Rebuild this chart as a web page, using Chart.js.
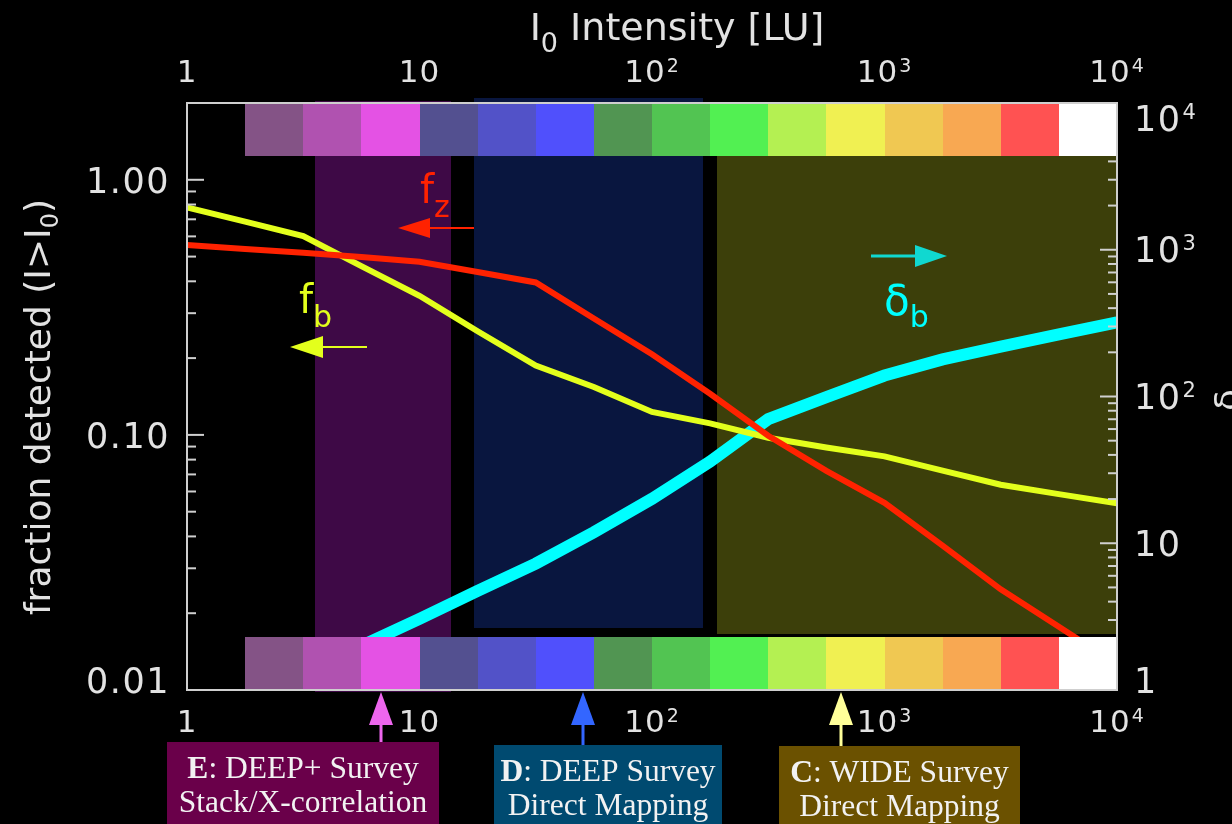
<!DOCTYPE html>
<html>
<head>
<meta charset="utf-8">
<title>Detected fraction and overdensity versus I0 intensity</title>
<script src="https://cdn.jsdelivr.net/npm/chart.js@4.4.1/dist/chart.umd.min.js"></script>
<style>
  html, body { margin: 0; padding: 0; background: #000; }
  canvas { display: block; }
</style>
</head>
<body>
<canvas id="chart" width="1232" height="824"></canvas>
<script>
// Intensity samples (LU), quarter-decade steps
const intensity = [1, 1.778, 3.162, 5.623, 10, 17.78, 31.62, 56.23, 100, 177.8, 316.2, 562.3, 1000, 1778, 3162, 5623, 10000];
// f_b : fraction of bright sources detected above I0
const fracB = [0.78, 0.686, 0.602, 0.459, 0.351, 0.255, 0.187, 0.154, 0.123, 0.111, 0.0975, 0.0893, 0.0824, 0.0724, 0.0638, 0.0586, 0.0539];
// f_z : fraction detected in redshift
const fracZ = [0.555, 0.535, 0.518, 0.498, 0.477, 0.435, 0.396, 0.286, 0.207, 0.145, 0.0992, 0.0723, 0.0542, 0.0368, 0.0248, 0.0177, 0.0126];
// delta_b : overdensity (right axis)
const deltaB = [0.48, 0.79, 1.26, 2.0, 3.05, 4.74, 7.27, 11.9, 20.1, 36.0, 70.2, 99.0, 139, 179, 219, 265, 320];

// Axis ticks and labels
const xTickValues = [1, 10, 100, 1000, 10000];
const xTickLabels = ['1', '10', '10^2', '10^3', '10^4'];
const fracTickValues = [0.01, 0.1, 1];
const fracTickLabels = ['0.01', '0.10', '1.00'];
const deltaTickValues = [1, 10, 100, 1000, 10000];
const deltaTickLabels = ['1', '10', '10^2', '10^3', '10^4'];

// Colour key cells along the intensity axis
const keyEdges = [1, 1.778, 3.162, 5.623, 10, 17.78, 31.62, 56.23, 100, 177.8, 316.2, 562.3, 1000, 1778, 3162, 5623, 10000];
const keyColors = [null, '#845386', '#b052b0', '#e452e4', '#535090', '#5252c8', '#5050fc', '#519552',
                   '#52c452', '#52f052', '#b4f052', '#f0f052', '#f0c852', '#f8a852', '#ff5252', '#ffffff'];

// Survey regimes
const surveyNames = ['E', 'D', 'C'];
const surveyTitles = [': DEEP+ Survey', ': DEEP Survey', ': WIDE Survey'];
const surveyModes = ['Stack/X-correlation', 'Direct Mapping', 'Direct Mapping'];
const surveyFrom = [3.55, 17.2, 190];
const surveyTo = [13.6, 166, 10000];
const surveyMarks = [6.8, 50.5, 650];

// ---- styling ----
const SANS = '"DejaVu Sans", sans-serif';
const SERIF = '"Liberation Serif", "DejaVu Serif", serif';
const TEXT = '#e2e2e2';
const bandStyle = [
  { fill: '#3e0946', top: 2.03, bottom: 0.0098 },
  { fill: '#09163f', top: 2.085, bottom: 0.0175 },
  { fill: '#3c3f0a', top: 1.24, bottom: 0.0166 }
];
const boxStyle = [
  { fill: '#6a004a', left: 167, right: 439, top: 742, arrow: '#ee66ee' },
  { fill: '#004a70', left: 494, right: 722, top: 745, arrow: '#3366ff' },
  { fill: '#6b5100', left: 779, right: 1020, top: 746, arrow: '#ffff99' }
];
const keyTopEdge = 1.24;      // lower edge of the upper key strip (fraction units)
const keyBottomEdge = 0.0162; // upper edge of the lower key strip (fraction units)

function drawPower(ctx, label, x, yMid, align, size, spacing) {
  const parts = label.split('^');
  const base = parts[0], exp = parts[1];
  const es = Math.round(size * 0.6);
  ctx.letterSpacing = (spacing || 0) + 'px';
  ctx.font = size + 'px ' + SANS;
  const wb = ctx.measureText(base).width;
  let we = 0;
  if (exp) { ctx.font = es + 'px ' + SANS; we = ctx.measureText(exp).width + 1; }
  const total = wb + we;
  const x0 = align === 'center' ? x - total / 2 : align === 'right' ? x - total : x;
  const baseline = yMid + size * 0.364;
  ctx.textAlign = 'left';
  ctx.textBaseline = 'alphabetic';
  ctx.font = size + 'px ' + SANS;
  ctx.fillText(base, x0, baseline);
  if (exp) {
    ctx.font = es + 'px ' + SANS;
    const sb = baseline - size * 0.729 + es * 0.729 - 2;
    ctx.fillText(exp, x0 + wb + 1, sb);
  }
  ctx.letterSpacing = '0px';
}

// runs: [text, size, dy, font, bold]
function drawRuns(ctx, runs, x, baseline, align) {
  let total = 0;
  const widths = runs.map(r => {
    ctx.font = (r[4] ? 'bold ' : '') + r[1] + 'px ' + (r[3] || SANS);
    const w = ctx.measureText(r[0]).width;
    total += w;
    return w;
  });
  let cx = align === 'center' ? x - total / 2 : align === 'right' ? x - total : x;
  ctx.textAlign = 'left';
  ctx.textBaseline = 'alphabetic';
  runs.forEach((r, i) => {
    ctx.font = (r[4] ? 'bold ' : '') + r[1] + 'px ' + (r[3] || SANS);
    ctx.fillText(r[0], cx, baseline + (r[2] || 0));
    cx += widths[i];
  });
}

function arrow(ctx, x0, y0, x1, y1, color, lw, headLen, headHalf) {
  const ang = Math.atan2(y1 - y0, x1 - x0);
  const bx = x1 - headLen * Math.cos(ang), by = y1 - headLen * Math.sin(ang);
  ctx.strokeStyle = color;
  ctx.fillStyle = color;
  ctx.lineWidth = lw;
  ctx.beginPath();
  ctx.moveTo(x0, y0);
  ctx.lineTo(bx, by);
  ctx.stroke();
  ctx.beginPath();
  ctx.moveTo(x1, y1);
  ctx.lineTo(bx + headHalf * Math.sin(ang), by - headHalf * Math.cos(ang));
  ctx.lineTo(bx - headHalf * Math.sin(ang), by + headHalf * Math.cos(ang));
  ctx.closePath();
  ctx.fill();
}

const decor = {
  id: 'decor',
  beforeDraw(chart) {
    const ctx = chart.ctx;
    ctx.save();
    ctx.fillStyle = '#000';
    ctx.fillRect(0, 0, chart.width, chart.height);
    ctx.restore();
  },
  beforeDatasetsDraw(chart) {
    const { ctx, scales: { x, yFrac } } = chart;
    ctx.save();
    surveyFrom.forEach((from, i) => {
      const x0 = Math.round(x.getPixelForValue(from));
      const x1 = Math.round(x.getPixelForValue(surveyTo[i]));
      const y0 = Math.round(yFrac.getPixelForValue(bandStyle[i].top));
      const y1 = Math.round(yFrac.getPixelForValue(bandStyle[i].bottom));
      ctx.fillStyle = bandStyle[i].fill;
      ctx.fillRect(x0, y0, x1 - x0, y1 - y0);
    });
    ctx.restore();
  },
  afterDatasetsDraw(chart) {
    const { ctx, chartArea: a, scales: { x, yFrac, yDelta } } = chart;
    ctx.save();

    // inward tick marks
    ctx.strokeStyle = '#d0d0d0';
    ctx.lineWidth = 2;
    [0.01, 0.1, 1].forEach(d => {
      for (let m = 1; m <= 9; m++) {
        const py = yFrac.getPixelForValue(m * d);
        if (py < a.top + 1 || py > a.bottom) continue;
        const len = m === 1 ? 17 : 9;
        ctx.beginPath(); ctx.moveTo(a.left, py); ctx.lineTo(a.left + len, py); ctx.stroke();
      }
    });
    [1, 10, 100, 1000].forEach(d => {
      for (let m = 1; m <= 9; m++) {
        const py = yDelta.getPixelForValue(m * d);
        if (py < a.top + 1 || py > a.bottom - 1) continue;
        const len = m === 1 ? 17 : 9;
        ctx.beginPath(); ctx.moveTo(a.right, py); ctx.lineTo(a.right - len, py); ctx.stroke();
      }
    });

    // colour key strips
    const yTopInner = Math.round(yFrac.getPixelForValue(keyTopEdge));
    const yBotInner = Math.round(yFrac.getPixelForValue(keyBottomEdge));
    keyColors.forEach((c, k) => {
      if (!c) return;
      const x0 = Math.round(x.getPixelForValue(keyEdges[k]));
      const x1 = Math.round(x.getPixelForValue(keyEdges[k + 1]));
      ctx.fillStyle = c;
      ctx.fillRect(x0, a.top, x1 - x0, yTopInner - a.top);
      ctx.fillRect(x0, yBotInner, x1 - x0, a.bottom - yBotInner);
    });

    // frame
    ctx.strokeStyle = '#cfcfcf';
    ctx.lineWidth = 2;
    ctx.strokeRect(a.left, a.top, a.right - a.left, a.bottom - a.top);

    // tick labels
    ctx.fillStyle = TEXT;
    xTickValues.forEach((v, i) => {
      const px = x.getPixelForValue(v);
      drawPower(ctx, xTickLabels[i], px, 721, 'center', 31, 1);
      drawPower(ctx, xTickLabels[i], px, 71, 'center', 31, 1);
    });
    fracTickValues.forEach((v, i) => {
      const py = Math.min(yFrac.getPixelForValue(v), a.bottom - 10);
      drawPower(ctx, fracTickLabels[i], 170, py, 'right', 35, 1.5);
    });
    deltaTickValues.forEach((v, i) => {
      const py = Math.max(Math.min(yDelta.getPixelForValue(v), a.bottom - 10), a.top + 15);
      drawPower(ctx, deltaTickLabels[i], 1134, py, 'left', 35, 1.5);
    });

    // axis titles
    drawRuns(ctx, [['I', 38, 0], ['0', 27, 12], [' Intensity [LU]', 38, 0]], 677, 40, 'center');
    ctx.save();
    ctx.translate(50, 407);
    ctx.rotate(-Math.PI / 2);
    drawRuns(ctx, [['fraction detected (I>I', 36, 0], ['0', 24, 8], [')', 36, 0]], 0, 0, 'center');
    ctx.restore();
    ctx.save();
    ctx.translate(1240, 400);
    ctx.rotate(-Math.PI / 2);
    drawRuns(ctx, [['\u03b4', 36, 0]], 0, 0, 'center');
    ctx.restore();

    // series labels with direction arrows
    ctx.fillStyle = '#e3ff1c';
    drawRuns(ctx, [['f', 40, 0], ['b', 30, 14]], 299, 313, 'left');
    arrow(ctx, 367, 347, 290, 347, '#e3ff1c', 2, 33, 11);
    ctx.fillStyle = '#ff2200';
    drawRuns(ctx, [['f', 40, 0], ['z', 30, 14]], 420, 203, 'left');
    arrow(ctx, 474, 228, 398, 228, '#ff2200', 2, 32, 10);
    ctx.fillStyle = '#00ffff';
    drawRuns(ctx, [['\u03b4', 42, 0], ['b', 30, 12]], 884, 315, 'left');
    arrow(ctx, 871, 256, 947, 256, '#10d8d0', 3, 32, 11);

    // survey boxes and markers
    surveyNames.forEach((n, i) => {
      const b = boxStyle[i];
      ctx.fillStyle = b.fill;
      ctx.fillRect(b.left, b.top, b.right - b.left, chart.height - b.top);
      const cx = (b.left + b.right) / 2;
      ctx.fillStyle = '#f2f2f2';
      drawRuns(ctx, [[n, 31.5, 0, SERIF, true], [surveyTitles[i], 31.5, 0, SERIF]], cx, b.top + 36, 'center');
      drawRuns(ctx, [[surveyModes[i], 31.5, 0, SERIF]], cx, b.top + 70, 'center');
      const px = Math.round(x.getPixelForValue(surveyMarks[i]));
      arrow(ctx, px, b.top, px, 692, b.arrow, 3, 33, 12);
    });

    ctx.restore();
  }
};

const toPoints = ys => intensity.map((v, i) => ({ x: v, y: ys[i] }));

new Chart(document.getElementById('chart'), {
  type: 'line',
  data: {
    datasets: [
      { label: 'f_z', data: toPoints(fracZ), yAxisID: 'yFrac', borderColor: '#ff2200', borderWidth: 6, order: 1 },
      { label: 'f_b', data: toPoints(fracB), yAxisID: 'yFrac', borderColor: '#e3ff1c', borderWidth: 6, order: 2 },
      { label: 'delta_b', data: toPoints(deltaB), yAxisID: 'yDelta', borderColor: '#00ffff', borderWidth: 12, order: 3 }
    ]
  },
  options: {
    responsive: false,
    animation: false,
    devicePixelRatio: 1,
    layout: { padding: { left: 187, right: 115, top: 103, bottom: 134 } },
    elements: { point: { radius: 0 }, line: { tension: 0, fill: false } },
    plugins: { legend: { display: false }, tooltip: { enabled: false } },
    scales: {
      x: { type: 'logarithmic', min: 1, max: 10000, display: false },
      yFrac: { type: 'logarithmic', position: 'left', min: 0.01, max: 2, display: false },
      yDelta: { type: 'logarithmic', position: 'right', min: 1, max: 10000, display: false }
    }
  },
  plugins: [decor]
});
</script>
</body>
</html>
